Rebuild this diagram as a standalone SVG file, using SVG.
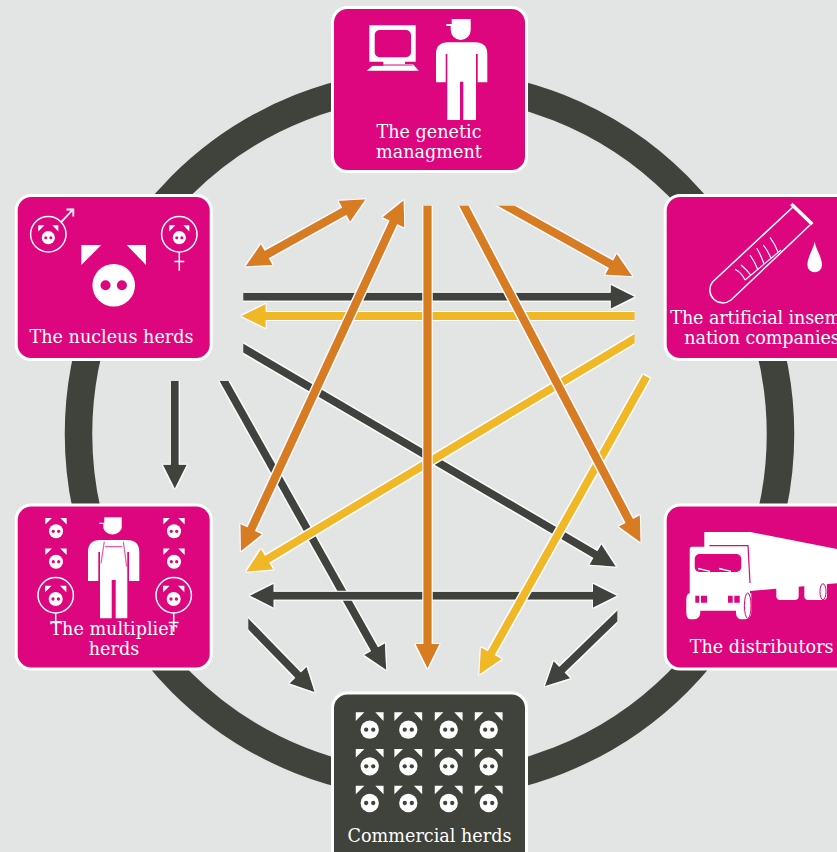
<svg xmlns="http://www.w3.org/2000/svg" xmlns:xlink="http://www.w3.org/1999/xlink" width="837" height="852" viewBox="0 0 837 852">
<style>
.box{stroke:#fff;stroke-width:3}
.pink{fill:#dd067e;color:#dd067e}
.dark{fill:#40423c;color:#40423c}
.lbl{font-family:"DejaVu Serif",serif;font-size:17.6px;fill:#fff;text-anchor:middle}
.lblL{text-anchor:start;letter-spacing:-.12px}
.w{fill:#fff}
.ln{fill:none;stroke:#fff;stroke-linecap:butt}
.cut{fill:none;stroke:#dd067e}
.c{fill:none;stroke-width:8.500;filter:url(#halo)}
.co{stroke:#d87b24;marker-end:url(#mo)}
.cd{stroke:#40423c;stroke-width:8;marker-end:url(#md)}
.cy{stroke:#f1b825;stroke-width:8;marker-end:url(#my)}
.co2{marker-start:url(#mo)}
.cd2{marker-start:url(#md)}
</style>
<defs>
<filter id="halo" filterUnits="userSpaceOnUse" x="0" y="0" width="837" height="852">
<feMorphology in="SourceAlpha" operator="dilate" radius="0.9" result="d"/>
<feFlood flood-color="#fff"/>
<feComposite in2="d" operator="in"/>
<feMerge><feMergeNode/><feMergeNode in="SourceGraphic"/></feMerge>
</filter>
<marker id="mo" markerUnits="userSpaceOnUse" markerWidth="30" markerHeight="28" viewBox="-2 -14 30 28" refX="1" refY="0" orient="auto-start-reverse"><path d="M0-12L24.500 0L0 12Z" fill="#d87b24"/></marker>
<marker id="md" markerUnits="userSpaceOnUse" markerWidth="30" markerHeight="28" viewBox="-2 -14 30 28" refX="1" refY="0" orient="auto-start-reverse"><path d="M0-12L24 0L0 12Z" fill="#40423c"/></marker>
<marker id="my" markerUnits="userSpaceOnUse" markerWidth="30" markerHeight="28" viewBox="-2 -14 30 28" refX="1" refY="0" orient="auto-start-reverse"><path d="M0-12L24.500 0L0 12Z" fill="#f1b825"/></marker>
<clipPath id="cTop"><rect x="0" y="205.700" width="837" height="646.300"/></clipPath>
<clipPath id="cLow"><rect x="0" y="381" width="837" height="471"/></clipPath>
<clipPath id="cL1"><rect x="243.300" y="0" width="593.700" height="852"/></clipPath>
<clipPath id="cL2"><rect x="248.300" y="0" width="588.700" height="852"/></clipPath>
<clipPath id="cR1"><rect x="0" y="0" width="634.500" height="852"/></clipPath>
<clipPath id="cR2"><rect x="0" y="0" width="617.300" height="852"/></clipPath>
<g id="pig">
<path class="w" d="M-32.400-40.300H-12.400L-32.400-20.300ZM13-40.300H32.300V-20.300Z"/>
<circle class="w" r="21.300"/>
<circle cx="-8.200" r="5" fill="currentColor"/>
<circle cx="8.200" r="5" fill="currentColor"/>
</g>
<g id="venus">
<circle class="ln" r="17.700" stroke-width="1.500"/>
<path class="ln" d="M0 17.700V36.500M-5 27.300H5" stroke-width="1.500"/>
</g>
</defs>
<rect width="837" height="852" fill="#e3e5e4"/>
<circle cx="429.500" cy="434" r="351" fill="none" stroke="#40423c" stroke-width="27.500"/>

<g id="connectors">
<line class="c cd" x1="200" y1="296.800" x2="611.700" y2="296.800" clip-path="url(#cL1)"/>
<line class="c cd" x1="203" y1="324.500" x2="596.200" y2="555" clip-path="url(#cL1)"/>
<line class="c cd" x1="174.800" y1="360" x2="174.800" y2="465.700" clip-path="url(#cLow)"/>
<line class="c cd" x1="213" y1="361.400" x2="375" y2="650" clip-path="url(#cLow)"/>
<line class="c cd cd2" x1="272.700" y1="595.700" x2="594" y2="595.700"/>
<line class="c cd" x1="228.300" y1="603.400" x2="298.700" y2="675.800" clip-path="url(#cL2)"/>
<line class="c cd" x1="638" y1="596" x2="561.300" y2="670.300" clip-path="url(#cR2)"/>
<line class="c cy" x1="660" y1="316" x2="264.700" y2="316" clip-path="url(#cR1)"/>
<line class="c cy" x1="675" y1="314.300" x2="266.300" y2="559.700" clip-path="url(#cR1)"/>
<line class="c cy" x1="646.500" y1="376.500" x2="490.800" y2="654"/>
<line class="c co co2" x1="265.900" y1="255" x2="345.100" y2="210.700"/>
<line class="c co co2" x1="250.800" y1="530" x2="393.800" y2="221.500"/>
<line class="c co" x1="427.500" y1="186" x2="427.500" y2="645" clip-path="url(#cTop)"/>
<line class="c co" x1="453.500" y1="186" x2="629.700" y2="521.700" clip-path="url(#cTop)"/>
<line class="c co" x1="470.700" y1="185.900" x2="611.800" y2="264.800" clip-path="url(#cTop)"/>
</g>

<g id="node-genetic" class="pink">
<rect class="box" x="332.500" y="7.500" width="194" height="164" rx="15"/>
<path class="w" fill-rule="evenodd" d="M369.300 25.300H415.700V61.700H405V64H412.700L418.700 70.700H366.700L372.700 65.700H383.300V61.700H369.300ZM379.700 30a5 5 0 0 0-5 5V52.300a5 5 0 0 0 5 5H406a5 5 0 0 0 5-5V35a5 5 0 0 0-5-5Z"/>
<path class="cut" stroke-width="1" d="M372.700 65H412.700"/>
<path class="w" d="M451.700 19H470.700V30A10 10 0 0 1 450.700 30V26H446.300V24H451.700Z"/>
<path class="w" d="M436 54Q436 42.300 448 42.300H475Q487.300 42.300 487.300 54V82.300H477.700V54H476V120H463.300V81.700H460V120H447.300V54H445.700V82.300H436Z"/>
<text class="lbl" x="429" y="138">The genetic</text>
<text class="lbl" x="429" y="158">managment</text>
</g>

<g id="node-nucleus" class="pink">
<rect class="box" x="16.200" y="195.500" width="195" height="164" rx="15"/>
<use href="#pig" xlink:href="#pig" transform="translate(113.700 285.300)"/>
<circle class="ln" cx="48.300" cy="234.300" r="17.700" stroke-width="1.500"/>
<path class="ln" d="M60.700 222.700L72.500 210M66.500 209.500H73.300V216.500" stroke-width="1.800"/>
<use href="#pig" xlink:href="#pig" transform="translate(48.300 237.700) scale(.31)"/>
<use href="#venus" xlink:href="#venus" transform="translate(179.300 234.300)"/>
<use href="#pig" xlink:href="#pig" transform="translate(179.300 237.700) scale(.31)"/>
<text class="lbl" x="111.500" y="342.700">The nucleus herds</text>
</g>

<g id="node-multiplier" class="pink">
<rect class="box" x="16.200" y="505" width="195" height="164" rx="15"/>
<use href="#pig" xlink:href="#pig" transform="translate(56 531.300) scale(.33)"/>
<use href="#pig" xlink:href="#pig" transform="translate(56 561.700) scale(.33)"/>
<use href="#pig" xlink:href="#pig" transform="translate(174 531.300) scale(.33)"/>
<use href="#pig" xlink:href="#pig" transform="translate(174 561.700) scale(.33)"/>
<use href="#venus" xlink:href="#venus" transform="translate(55.700 595.300)"/>
<use href="#pig" xlink:href="#pig" transform="translate(55.700 599) scale(.33)"/>
<use href="#venus" xlink:href="#venus" transform="translate(173.700 595.300)"/>
<use href="#pig" xlink:href="#pig" transform="translate(173.700 599) scale(.33)"/>
<path class="w" d="M104.300 517.300H121.700V528.300A10 10 0 0 1 103.300 528.300V524H99.300V522.700H104.300Z"/>
<path class="w" d="M88 552Q88 540 100 540H127Q139.300 540 139.300 552V581H129V552H127.300V618.300H115.700V580H111.700V618.300H100V552H98.300V581H88Z"/>
<path fill="none" stroke="#ea5aa8" stroke-width="1.200" d="M104.300 541.700L101 563.300M123.300 541.700L126.700 566.700M105 546.700H122.300"/>
<text class="lbl" x="113.700" y="635">The multiplier</text>
<text class="lbl" x="114" y="655.300">herds</text>
</g>

<g id="node-insemination" class="pink">
<rect class="box" x="665.200" y="195.500" width="195" height="164" rx="15"/>
<path class="ln" stroke-width="1.500" d="M793 207L712.500 282A13 13 0 0 0 731 300L810 225"/>
<path class="ln" stroke-width="3.500" d="M791.300 204L812.300 224.300"/>
<path class="ln" stroke-width="1.200" d="M745 280L781 250M745 280Q742 273 735 269.300M751 275.500Q747 270 741 265M757.700 269.500Q755 262 750 255M764 264Q761 255 756.700 248.300M771 258.300Q768 251 763.300 245M778 252Q775 244 770 237.300"/>
<path class="w" d="M814.700 241.700C816 250 822 257 822 265A7.300 7.300 0 0 1 807.400 265C807.400 257 813 250 814.700 241.700Z"/>
<text class="lbl lblL" x="670.300" y="324.300">The artificial insem</text>
<text class="lbl lblL" x="684.300" y="344.300">nation companies</text>
</g>

<g id="node-distributors" class="pink">
<rect class="box" x="665.200" y="505" width="195" height="164" rx="15"/>
<path class="w" d="M704.300 532H750.300L837 549V583.300L750 591V600H704.300Z"/>
<rect class="w" x="776.300" y="580" width="22.400" height="20" rx="4"/>
<rect class="w" x="804.300" y="580" width="22.700" height="20" rx="4"/>
<path class="w" d="M692 546.700H747.700L749.700 552V593.300H751.300V612Q751.300 619.300 745 619.300H741Q736 619.300 736 612V610.700H700.300V612Q700.300 619.300 694 619.300H690Q686.300 619.300 686.300 612V600Q686.300 593.300 689.700 593.300V549Q689.700 546.700 692 546.700Z"/>
<path class="cut" stroke-width="1.200" d="M709.300 545.700H748L750 583"/>
<rect x="694.700" y="554" width="46.600" height="18" rx="5" fill="#dd067e"/>
<path class="ln" stroke-width="1.300" d="M698 568.500L710 571.300M719 568.500L731 571.300"/>
<path fill="#dd067e" d="M695.300 595.700H699.300V602.700H695.300ZM701 595.700H707V602.700H701ZM728 595.700H732.700V602.700H728ZM734.300 595.700H739.700V602.700H734.300Z"/>
<ellipse class="cut" stroke-width="1" cx="747.700" cy="605.700" rx="3.300" ry="12.700"/>
<ellipse class="cut" stroke-width="1" cx="823" cy="591.700" rx="3" ry="8"/>
<text class="lbl" x="761.700" y="652.700">The distributors</text>
</g>

<g id="node-commercial" class="dark">
<rect class="box" x="332.500" y="693" width="194" height="175" rx="15"/>
<use href="#pig" xlink:href="#pig" transform="translate(369.700 729.700) scale(.43)"/>
<use href="#pig" xlink:href="#pig" transform="translate(408.300 729.700) scale(.43)"/>
<use href="#pig" xlink:href="#pig" transform="translate(448.700 729.700) scale(.43)"/>
<use href="#pig" xlink:href="#pig" transform="translate(488.700 729.700) scale(.43)"/>
<use href="#pig" xlink:href="#pig" transform="translate(369.700 766.300) scale(.43)"/>
<use href="#pig" xlink:href="#pig" transform="translate(408.300 766.300) scale(.43)"/>
<use href="#pig" xlink:href="#pig" transform="translate(448.700 766.300) scale(.43)"/>
<use href="#pig" xlink:href="#pig" transform="translate(488.700 766.300) scale(.43)"/>
<use href="#pig" xlink:href="#pig" transform="translate(369.700 803) scale(.43)"/>
<use href="#pig" xlink:href="#pig" transform="translate(408.300 803) scale(.43)"/>
<use href="#pig" xlink:href="#pig" transform="translate(448.700 803) scale(.43)"/>
<use href="#pig" xlink:href="#pig" transform="translate(488.700 803) scale(.43)"/>
<text class="lbl" x="429.500" y="841.700">Commercial herds</text>
</g>
</svg>
